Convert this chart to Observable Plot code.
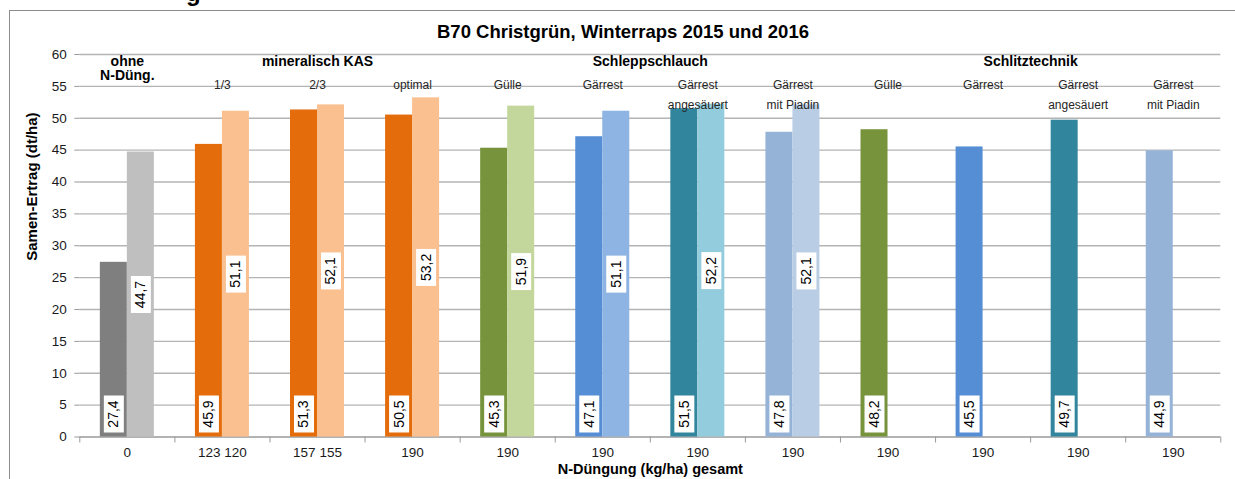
<!DOCTYPE html>
<html>
<head>
<meta charset="utf-8">
<script src="https://cdn.jsdelivr.net/npm/d3@7"></script>
<script src="https://cdn.jsdelivr.net/npm/@observablehq/plot@0.6"></script>
<style>
  html, body { margin: 0; padding: 0; background: #fff; }
  body { width: 1235px; height: 479px; position: relative; overflow: hidden; font-family: "Liberation Sans", Arial, sans-serif; }
  #frame { position: absolute; left: 9px; top: 10px; width: 1400px; height: 600px; border-left: 1.5px solid #8c8c8c; border-top: 1.5px solid #8c8c8c; pointer-events: none; z-index: 2; }
  #title { position: absolute; left: 0; width: 1246px; top: 23px; text-align: center; font-weight: bold; font-size: 18.5px; line-height: 1; color: #000; z-index: 3; }
  #above { position: absolute; left: 186px; top: -19px; font-weight: bold; font-size: 24px; line-height: 1; color: #000; }
  #chart { position: absolute; left: 0; top: 0; z-index: 1; }
</style>
</head>
<body>
<div id="above">g</div>
<div id="frame"></div>
<div id="title">B70 Christgrün, Winterraps 2015 und 2016</div>
<div id="chart"></div>
<script>
// ---- data ----
const categories = d3.range(12);
const xLabels = ["0", "123 120", "157 155", "190", "190", "190", "190", "190", "190", "190", "190", "190"];
const groupNames = ["ohne\nN-Düng.", "mineralisch KAS", "Schleppschlauch", "Schlitztechnik"];
const groupStart = [0, 1, 4, 8];
const groupEnd = [0, 3, 7, 11];
const subLabels = ["", "1/3", "2/3", "optimal", "Gülle", "Gärrest", "Gärrest\nangesäuert", "Gärrest\nmit Piadin",
                   "Gülle", "Gärrest", "Gärrest\nangesäuert", "Gärrest\nmit Piadin"];
const yield2015 = [27.4, 45.9, 51.3, 50.5, 45.3, 47.1, 51.5, 47.8, 48.2, 45.5, 49.7, 44.9];
const yield2016 = [44.7, 51.1, 52.1, 53.2, 51.9, 51.1, 52.2, 52.1, null, null, null, null];
const darkColors = ["#7f7f7f", "#e46c0a", "#e46c0a", "#e46c0a", "#77933c", "#558ed5", "#31859c", "#95b3d7",
                    "#77933c", "#558ed5", "#31859c", "#95b3d7"];
const lightColors = ["#bfbfbf", "#fac090", "#fac090", "#fac090", "#c3d69b", "#8eb4e3", "#93cddd", "#b9cde5",
                     null, null, null, null];
const yTicks = d3.range(0, 65, 5);

// ---- layout constants (styles) ----
const BAR = 0.284;            // bar width as fraction of a category
const OUT = 0.5 - BAR;        // empty space left of the pair
const grid = "#b4b4b4";
const axisGray = "#9a9a9a";

const rows = [];
categories.forEach(i => {
  rows.push({i, year: "2015", v: yield2015[i], color: darkColors[i]});
  if (yield2016[i] != null) rows.push({i, year: "2016", v: yield2016[i], color: lightColors[i]});
});
const rows15 = rows.filter(d => d.year === "2015");
const rows16 = rows.filter(d => d.year === "2016");
const fmt = v => d3.format(".1f")(v).replace(".", ",");
const barX1 = d => d.i + (d.year === "2015" ? OUT : 0.5);
const barX2 = d => d.i + (d.year === "2015" ? 0.5 : 1 - OUT);
const labX = d => (barX1(d) + barX2(d)) / 2;

const boxSymbol = { draw(ctx) { ctx.rect(-10, -18.5, 20, 37); } };

const chart = Plot.plot({
  width: 1235,
  height: 479,
  marginLeft: 79.3,
  marginRight: 14.7,
  marginTop: 54,
  marginBottom: 42.5,
  style: {fontFamily: "'Liberation Sans', Arial, sans-serif", background: "transparent", color: "#1a1a1a", maxWidth: "none"},
  x: {type: "linear", domain: [0, 12], axis: null},
  y: {domain: [0, 60], axis: null},
  marks: [
    Plot.gridY({ticks: yTicks.slice(1), stroke: grid, strokeOpacity: 1, strokeWidth: 1.3}),
    Plot.axisY({ticks: yTicks, tickSize: 5, tickPadding: 8, label: null, stroke: axisGray, fontSize: 13.5, fill: "#1a1a1a"}),
    Plot.ruleY([0], {stroke: axisGray, strokeWidth: 1.3}),
    Plot.axisX({ticks: d3.range(13), tickSize: 6, tickFormat: () => "", label: null, stroke: axisGray}),
    Plot.axisX({ticks: categories.map(i => i + 0.5), tickSize: 0, tickPadding: 10, tickFormat: v => xLabels[Math.floor(v)],
                label: null, fontSize: 13.5, fill: "#1a1a1a"}),
    Plot.rectY(rows, {x1: barX1, x2: barX2, y1: 0, y2: "v", fill: "color"}),
    // value labels, 2015 at the base, 2016 centred
    Plot.dot(rows15, {x: labX, y: 0, dy: -23, symbol: boxSymbol, fill: "white"}),
    Plot.text(rows15, {x: labX, y: 0, dy: -23, text: d => fmt(d.v), rotate: -90, fontSize: 14, fill: "#000"}),
    Plot.dot(rows16, {x: labX, y: d => d.v / 2, symbol: boxSymbol, fill: "white"}),
    Plot.text(rows16, {x: labX, y: d => d.v / 2, text: d => fmt(d.v), rotate: -90, fontSize: 14, fill: "#000"}),
    // group and treatment labels
    Plot.text(groupNames, {x: (d, k) => (groupStart[k] + groupEnd[k] + 1) / 2, text: d => d, frameAnchor: "top",
                           lineAnchor: "top", dy: 2, lineHeight: 1, fontSize: 14, fontWeight: "bold", fill: "#000"}),
    Plot.text(subLabels, {x: (d, k) => categories[k] + 0.5, text: d => d, frameAnchor: "top", lineAnchor: "top",
                          dy: 20.5, lineHeight: 1.667, fontSize: 12, fill: "#262626"}),
    // axis titles
    Plot.text(["Samen-Ertrag (dt/ha)"], {text: d => d, frameAnchor: "left", rotate: -90, dx: -48, dy: 15,
                                         fontSize: 15, fontWeight: "bold", fill: "#000"}),
    Plot.text(["N-Düngung (kg/ha) gesamt"], {text: d => d, frameAnchor: "bottom", dy: 36.5,
                                             fontSize: 14.5, fontWeight: "bold", fill: "#000"})
  ]
});
document.getElementById("chart").appendChild(chart);
</script>
</body>
</html>
